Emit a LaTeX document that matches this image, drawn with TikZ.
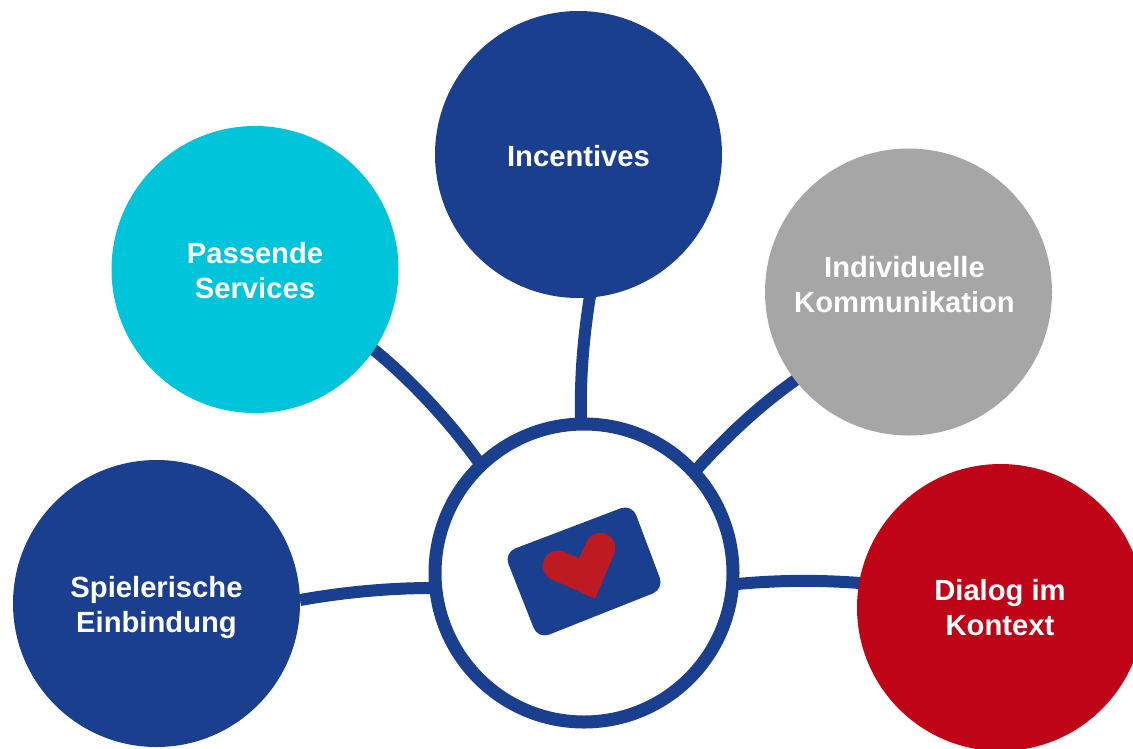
\documentclass[tikz,border=0pt]{standalone}
\usepackage{fontspec}
\setmainfont{Liberation Sans}
\definecolor{navy}{HTML}{1B3F8F}
\definecolor{cyanb}{HTML}{00C5DA}
\definecolor{greyb}{HTML}{A6A6A6}
\definecolor{redb}{HTML}{C00418}
\definecolor{heartred}{HTML}{BE1A22}
\tikzset{x=1pt,y=-1pt,
 bub/.style={circle,minimum size=287pt,inner sep=0pt},
 lab/.style={inner sep=0pt,align=center,text=white,font=\bfseries\fontsize{29.2}{35}\selectfont},
 link/.style={draw=navy,line width=12pt}}
\begin{document}
\begin{tikzpicture}
\useasboundingbox (0,0) rectangle (1133,748);
\clip (0,0) rectangle (1133,748);
\coordinate (a1) at (373,349);
\coordinate (a2) at (478,461);
\coordinate (b1) at (590,296);
\coordinate (b2) at (581,420);
\coordinate (c1) at (797,379);
\coordinate (c2) at (697,469);
\coordinate (d1) at (300,600);
\coordinate (d2) at (432,588);
\coordinate (e1) at (737,584);
\coordinate (e2) at (860,583);
\draw[link] (a1) .. controls (412,381) and (448,420) .. (a2);
\draw[link] (b1) .. controls (583,340) and (580,380) .. (b2);
\draw[link] (c1) .. controls (760,405) and (728,435) .. (c2);
\draw[link] (d1) .. controls (345,592) and (390,588) .. (d2);
\draw[link] (e1) .. controls (780,580) and (820,580) .. (e2);
\node[bub,fill=cyanb] (n1) at (255,269.5) {};
\node[bub,fill=navy] (n2) at (578.5,154.5) {};
\node[bub,fill=greyb] (n3) at (908.5,292) {};
\node[bub,fill=navy] (n4) at (156.5,603.5) {};
\node[bub,fill=redb] (n5) at (1000.5,607.5) {};
\node[lab] (t1) at (255,270.5) {Passende\\Services};
\node[lab] (t2) at (578.5,156.5) {Incentives};
\node[lab] (t3) at (904.5,285) {Individuelle\\Kommunikation};
\node[lab] (t4) at (156.5,607.5) {Spielerische\\Einbindung};
\node[lab] (t5) at (1000,608) {Dialog im\\Kontext};
\node[circle,draw=navy,line width=13pt,fill=white,minimum size=298pt,inner sep=0pt] (hub) at (584,573) {};
\fill[navy,rounded corners=12pt] (504,552.7) -- (632,504) -- (664,589) -- (538,639) -- cycle;
\fill[heartred] (595,598.7) -- (551.7,579.3)
  .. controls (544.1,575.9) and (540.8,567) .. (544.2,559.4)
  .. controls (547.6,551.8) and (556.4,548.5) .. (564,551.9)
  -- (579,558) -- (586.7,541.7)
  .. controls (590.1,534.1) and (599,530.8) .. (606.5,534.2)
  .. controls (614,537.6) and (617.4,546.4) .. (614,554) -- cycle;
\end{tikzpicture}
\end{document}
